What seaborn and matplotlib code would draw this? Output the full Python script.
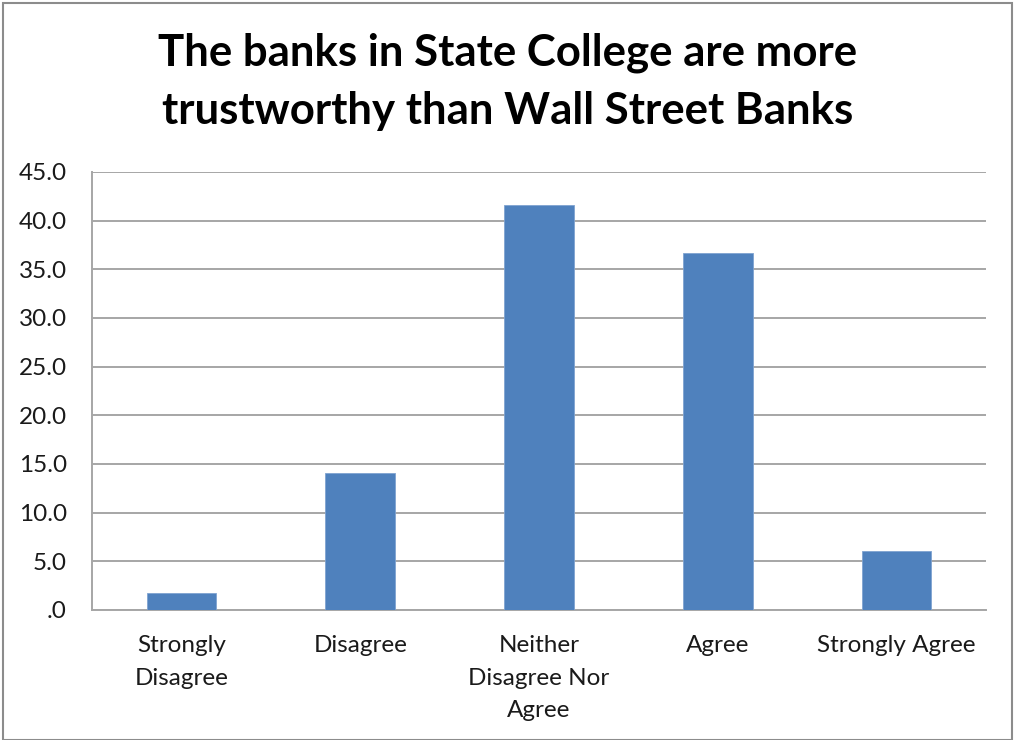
import matplotlib
matplotlib.use("Agg")
import matplotlib.pyplot as plt
from matplotlib.patches import Rectangle
from matplotlib.ticker import FuncFormatter
import seaborn as sns
import pandas as pd

categories = ["Strongly\nDisagree", "Disagree", "Neither\nDisagree Nor\nAgree", "Agree", "Strongly Agree"]
percent = [1.7, 14.1, 41.6, 36.7, 6.1]
y_ticks = [0, 5, 10, 15, 20, 25, 30, 35, 40, 45]
title = "The banks in State College are more\ntrustworthy than Wall Street Banks"

sns.set_theme(style="white")
plt.rcParams["font.family"] = ["Lato", "DejaVu Sans"]

df = pd.DataFrame({"category": categories, "percent": percent})

fig = plt.figure(figsize=(10.15, 7.4), dpi=100)
ax = fig.add_axes([92 / 1015, 1 - 610 / 740, (986 - 92) / 1015, (610 - 172) / 740])

sns.barplot(data=df, x="category", y="percent", color="#4F81BD", width=0.39,
            saturation=1, ax=ax, zorder=3, edgecolor="#7FA3D0", linewidth=0.6)

ax.set_ylim(0, 45)
ax.set_xlim(-0.5, 4.5)
ax.set_yticks(y_ticks)
ax.yaxis.set_major_formatter(FuncFormatter(lambda v, _: f"{v:.1f}".lstrip("0") if v < 1 else f"{v:.1f}"))
ax.grid(axis="y", color="#A6A6A6", linewidth=1.4, zorder=0)
ax.set_xlabel("")
ax.set_ylabel("")
for side in ["top", "right"]:
    ax.spines[side].set_visible(False)
for side in ["left", "bottom"]:
    ax.spines[side].set_color("#A6A6A6")
    ax.spines[side].set_linewidth(1.4)
ax.tick_params(axis="both", length=0, labelsize=17.5, colors="#1a1a1a")
ax.tick_params(axis="x", pad=18)
ax.tick_params(axis="y", pad=18)
for lbl in ax.get_xticklabels():
    lbl.set_linespacing(1.68)

fig.text(0.5, 1 - 82 / 740, title, ha="center", va="center", fontsize=31.5,
         fontweight="bold", color="black", linespacing=1.55)

fig.patches.append(Rectangle((3 / 1015, 0), 1 - 6 / 1015, 1 - 3 / 740,
                             transform=fig.transFigure, fill=False,
                             edgecolor="#8C8C8C", linewidth=1.5))

fig.savefig("out.png", dpi=100, facecolor="white")
